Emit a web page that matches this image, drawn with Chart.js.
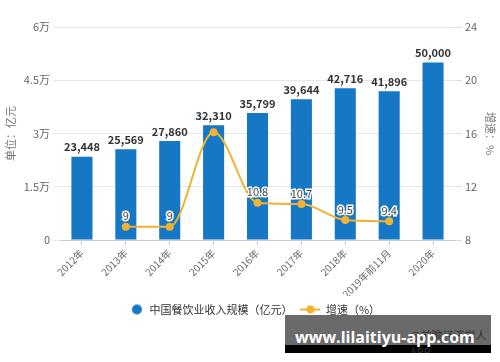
<!DOCTYPE html>
<html>
<head>
<meta charset="utf-8">
<script src="https://cdn.jsdelivr.net/npm/chart.js@4.4.1/dist/chart.umd.min.js"></script>
<style>
  body { margin: 0; background: #fff; }
  #wrap { position: relative; width: 500px; height: 362px; }
  #banner { position: absolute; left: 285px; top: 315px; width: 206px; height: 38px;
    background: linear-gradient(#6a6a6a 0, #6a6a6a 30px, #000 30px); overflow: hidden; }
  #banner .sub { position: absolute; left: 125px; top: 12px; font: 11px "Noto Sans CJK SC"; color: #333; }
  #banner .url { position: absolute; left: 10px; top: 11px; font: bold 16px "Open Sans"; color: #fff; white-space: nowrap; }
</style>
</head>
<body>
<div id="wrap">
  <canvas id="MixChart" width="500" height="362"></canvas>
  <div id="banner"><span class="sub">@前瞻经济学人APP</span><span class="url">www.lilaitiyu-app.com</span></div>
</div>
<script>
var years = ['2012年', '2013年', '2014年', '2015年', '2016年', '2017年', '2018年', '2019年前11月', '2020年'];
var revenue = [23448, 25569, 27860, 32310, 35799, 39644, 42716, 41896, 50000];
var growth = [null, 9, 9, 16.1, 10.8, 10.7, 9.5, 9.4, null];
var growthLabels = ['', '9', '9', '', '10.8', '10.7', '9.5', '9.4', ''];
var leftTicks = ['0', '1.5万', '3万', '4.5万', '6万'];

var blue = 'rgb(22, 119, 196)';
var orange = 'rgb(240, 178, 50)';
var fontFamily = '"Noto Sans CJK SC", "Noto Sans", sans-serif';

// legend icons
function makeIcon(kind) {
    var c = document.createElement('canvas');
    c.width = 20; c.height = 12;
    var g = c.getContext('2d');
    if (kind === 'dot') {
        g.fillStyle = blue;
        g.beginPath(); g.arc(13, 6, 5, 0, Math.PI * 2); g.fill();
    } else {
        g.strokeStyle = orange; g.lineWidth = 2;
        g.beginPath(); g.moveTo(0, 6); g.lineTo(20, 6); g.stroke();
        g.fillStyle = orange;
        g.beginPath(); g.arc(10, 6, 4, 0, Math.PI * 2); g.fill();
    }
    return c;
}
var icons = [makeIcon('dot'), makeIcon('line')];

var valueLabels = {
    id: 'valueLabels',
    afterDatasetsDraw: function (chart) {
        var ctx = chart.ctx;
        ctx.save();
        ctx.textAlign = 'center';
        ctx.textBaseline = 'bottom';
        var bars = chart.getDatasetMeta(0);
        ctx.font = 'bold 11px ' + fontFamily;
        ctx.fillStyle = '#333';
        bars.data.forEach(function (el, i) {
            ctx.fillText(revenue[i].toLocaleString('en-US'), el.x, el.y - 4);
        });
        var pts = chart.getDatasetMeta(1);
        ctx.font = '11px ' + fontFamily;
        ctx.lineWidth = 3;
        ctx.strokeStyle = '#fff';
        ctx.fillStyle = '#444';
        pts.data.forEach(function (el, i) {
            if (!growthLabels[i]) return;
            ctx.strokeText(growthLabels[i], el.x, el.y - 5);
            ctx.fillText(growthLabels[i], el.x, el.y - 5);
        });
        ctx.restore();
    }
};

var ctx = document.getElementById('MixChart').getContext('2d');
var mixChart = new Chart(ctx, {
    data: {
        labels: years,
        datasets: [
            {
                type: 'bar',
                label: '中国餐饮业收入规模（亿元）',
                data: revenue,
                backgroundColor: blue,
                yAxisID: 'y',
                barPercentage: 0.96,
                categoryPercentage: 0.5,
                order: 2
            },
            {
                type: 'line',
                label: '增速（%）',
                data: growth,
                borderColor: orange,
                backgroundColor: orange,
                borderWidth: 2,
                pointRadius: 4,
                pointBackgroundColor: orange,
                pointBorderWidth: 0,
                cubicInterpolationMode: 'monotone',
                yAxisID: 'y1',
                order: 1
            }
        ]
    },
    options: {
        responsive: false,
        animation: false,
        layout: { padding: { top: 27, left: 4, right: 0, bottom: 37 } },
        plugins: {
            tooltip: { enabled: false },
            legend: {
                position: 'bottom',
                labels: {
                    usePointStyle: true,
                    pointStyleWidth: 20,
                    padding: 8,
                    color: '#333',
                    font: { family: fontFamily, size: 11 },
                    sort: function (a, b) { return a.datasetIndex - b.datasetIndex; },
                    generateLabels: function (chart) {
                        var items = Chart.defaults.plugins.legend.labels.generateLabels(chart);
                        items.forEach(function (it) { it.pointStyle = icons[it.datasetIndex]; });
                        return items;
                    }
                }
            }
        },
        scales: {
            x: {
                grid: { display: true, drawOnChartArea: false, offset: false, tickLength: 5, color: '#ccc' },
                border: { color: '#ccc' },
                ticks: { maxRotation: 45, minRotation: 45, color: '#666', font: { family: fontFamily, size: 10 }, padding: 2 },
                afterFit: function (s) { s.height = 56; }
            },
            y: {
                position: 'left',
                min: 0, max: 60000,
                ticks: {
                    stepSize: 15000, color: '#666', padding: 3,
                    font: { family: fontFamily, size: 11 },
                    callback: function (v, i) { return leftTicks[i]; }
                },
                grid: { color: '#e6e6e6', tickLength: 7 },
                border: { display: false },
                title: { display: true, text: '单位：亿元', color: '#777', font: { family: fontFamily, size: 11 }, padding: 0 },
                afterFit: function (s) { s.width = 56; }
            },
            y1: {
                position: 'right',
                min: 8, max: 24,
                ticks: { stepSize: 4, color: '#666', padding: 3, font: { family: fontFamily, size: 11 } },
                grid: { drawOnChartArea: false, color: '#ddd', tickLength: 7 },
                border: { display: false },
                title: { display: true, text: '增速：%', color: '#777', font: { family: fontFamily, size: 11 }, padding: 3 },
                afterFit: function (s) { s.width = 45; }
            }
        }
    },
    plugins: [valueLabels]
});
</script>
</body>
</html>
